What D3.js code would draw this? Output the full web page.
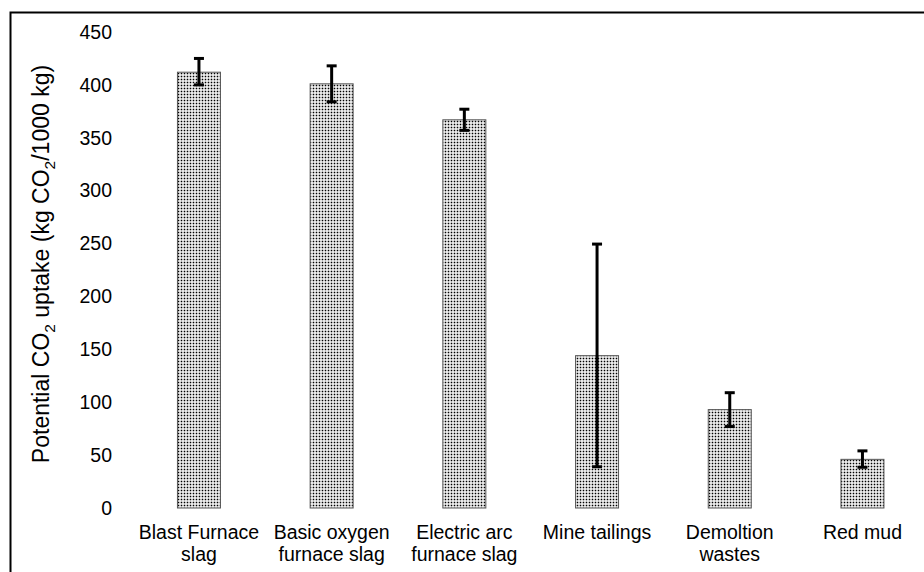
<!DOCTYPE html>
<html><head><meta charset="utf-8">
<script src="https://cdn.jsdelivr.net/npm/d3@7"></script>
<style>body{margin:0;background:#fff;} svg{display:block;font-family:"Liberation Sans",Arial,sans-serif;}</style>
</head><body>
<svg id="c" width="924" height="572"></svg>
<script>
const categories = [["Blast Furnace","slag"],["Basic oxygen","furnace slag"],["Electric arc","furnace slag"],["Mine tailings"],["Demoltion","wastes"],["Red mud"]];
const values = [412, 401, 367, 144, 93, 46];
const errLow = [400, 384, 357, 39, 77, 38.5];
const errHigh = [425, 418, 377, 249.5, 109, 54];
const yTicks = [0,50,100,150,200,250,300,350,400,450];

const svg = d3.select("#c");
const defs = svg.append("defs");
const pat = defs.append("pattern").attr("id","dots").attr("patternUnits","userSpaceOnUse")
  .attr("width",3).attr("height",3);
pat.append("rect").attr("width",3).attr("height",3).attr("fill","#fff");
pat.append("rect").attr("x",0.7).attr("y",0.7).attr("width",1.6).attr("height",1.6).attr("fill","#000");

// frame
svg.append("rect").attr("x",10.5).attr("y",12.5).attr("width",930).attr("height",580)
  .attr("fill","none").attr("stroke","#000").attr("stroke-width",2);

const x = d3.scaleBand().domain(d3.range(categories.length)).range([132.6, 928.8]).paddingInner(0.676).paddingOuter(0.338);
const y = d3.scaleLinear().domain([0,450]).range([508,32]);

const yAxis = svg.append("g").attr("transform","translate(118,0)")
  .call(d3.axisLeft(y).tickValues(yTicks).tickSize(0).tickPadding(6));
yAxis.select(".domain").remove();
yAxis.selectAll("text").attr("font-size",19.5).attr("fill","#000").attr("font-family","Liberation Sans, Arial, sans-serif");

svg.append("g").selectAll("rect").data(values).join("rect")
  .attr("x",(d,i)=>x(i)).attr("width",x.bandwidth())
  .attr("y",d=>y(d)).attr("height",d=>y(0)-y(d))
  .attr("fill","url(#dots)").attr("stroke","#555").attr("stroke-width",1);

const eb = svg.append("g").attr("stroke","#000").attr("stroke-width",3);
values.forEach((v,i)=>{
  const cx = x(i)+x.bandwidth()/2;
  eb.append("line").attr("x1",cx).attr("x2",cx).attr("y1",y(errLow[i])).attr("y2",y(errHigh[i]));
  eb.append("line").attr("x1",cx-5).attr("x2",cx+5).attr("y1",y(errLow[i])).attr("y2",y(errLow[i]));
  eb.append("line").attr("x1",cx-5).attr("x2",cx+5).attr("y1",y(errHigh[i])).attr("y2",y(errHigh[i]));
});

const xl = svg.append("g");
categories.forEach((lines,i)=>{
  const cx = x(i)+x.bandwidth()/2;
  const t = xl.append("text").attr("x",cx).attr("y",539).attr("text-anchor","middle").attr("font-size",19.5).attr("fill","#000");
  lines.forEach((l,j)=>t.append("tspan").attr("x",cx).attr("dy",j===0?0:22).text(l));
});

const yl = svg.append("text").attr("transform","translate(49,264) rotate(-90)").attr("text-anchor","middle")
  .attr("font-size",23).attr("fill","#000");
yl.append("tspan").text("Potential CO");
yl.append("tspan").attr("font-size",15.5).attr("dy",6).text("2");
yl.append("tspan").attr("dy",-6).text(" uptake (kg CO");
yl.append("tspan").attr("font-size",15.5).attr("dy",6).text("2");
yl.append("tspan").attr("dy",-6).text("/1000 kg)");
</script>
</body></html>
